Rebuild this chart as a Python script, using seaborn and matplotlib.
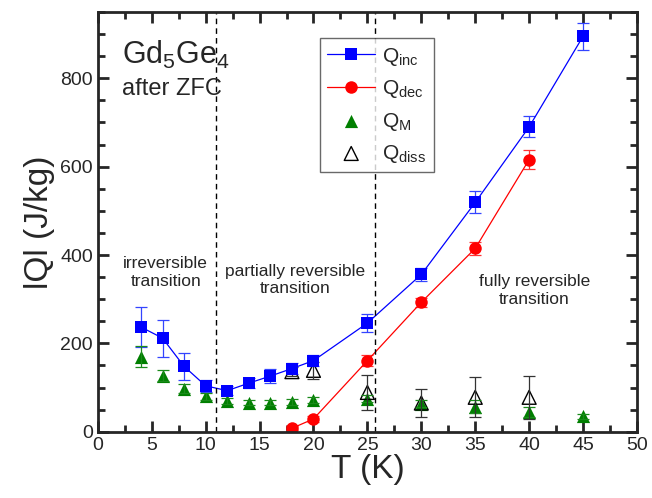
import numpy as np
import matplotlib
matplotlib.use("Agg")
import matplotlib.pyplot as plt
import seaborn as sns
from matplotlib.ticker import MultipleLocator

# Q_inc (blue squares)
T_inc = [4, 6, 8, 10, 12, 14, 16, 18, 20, 25, 30, 35, 40, 45]
Q_inc = [237, 212, 148, 104, 93, 110, 126, 143, 161, 246, 356, 519, 690, 895]
E_inc = [46, 42, 30, 14, 10, 12, 15, 12, 12, 20, 15, 25, 24, 30]

# Q_dec (red circles)
T_dec = [18, 20, 25, 30, 35, 40]
Q_dec = [8, 29, 161, 293, 415, 616]
E_dec = [4, 6, 12, 10, 15, 22]

# Q_M (green filled triangles)
T_m = [4, 6, 8, 10, 12, 14, 16, 18, 20, 25, 30, 35, 40, 45]
Q_m = [170, 127, 97, 80, 70, 66, 66, 68, 72, 75, 63, 57, 45, 35]
E_m = [24, 12, 10, 8, 7, 6, 6, 7, 7, 8, 8, 14, 12, 6]

# Q_diss (open triangles)
T_diss = [18, 20, 25, 30, 35, 40]
Q_diss = [136, 139, 89, 65, 78, 78]
E_diss = [10, 20, 40, 32, 45, 48]

sns.set_style("ticks")
plt.rcParams["font.family"] = ["Liberation Sans", "DejaVu Sans"]
plt.rcParams["mathtext.default"] = "regular"

fig, ax = plt.subplots(figsize=(6.52, 4.98), dpi=100)
fig.subplots_adjust(left=0.150, right=0.977, bottom=0.133, top=0.976)

# error bars
ax.errorbar(T_inc, Q_inc, yerr=E_inc, fmt="none", ecolor="#3344ff", elinewidth=0.9, capsize=4, capthick=0.9)
ax.errorbar(T_dec, Q_dec, yerr=E_dec, fmt="none", ecolor="#ff3333", elinewidth=0.9, capsize=4, capthick=0.9)
ax.errorbar(T_m, Q_m, yerr=E_m, fmt="none", ecolor="#1a8a1a", elinewidth=0.9, capsize=4, capthick=0.9)
ax.errorbar(T_diss, Q_diss, yerr=E_diss, fmt="none", ecolor="#333333", elinewidth=0.9, capsize=4, capthick=0.9)

sns.lineplot(x=T_inc, y=Q_inc, ax=ax, color="#0000ff", marker="s", markersize=8,
             markeredgewidth=0, linewidth=0.9, label=r"Q$_{inc}$")
sns.lineplot(x=T_dec, y=Q_dec, ax=ax, color="#ff0000", marker="o", markersize=9,
             markeredgewidth=0, linewidth=0.9, label=r"Q$_{dec}$")
sns.scatterplot(x=T_m, y=Q_m, ax=ax, color="#007f00", marker="^", s=90,
                linewidth=0, label=r"Q$_{M}$")
sns.scatterplot(x=T_diss, y=Q_diss, ax=ax, marker="^", s=100, facecolor="none",
                edgecolor="black", linewidth=1.0, label=r"Q$_{diss}$")

# region separators
ax.axvline(11, color="black", linestyle=(0, (4, 3)), linewidth=1.0)
ax.axvline(25.7, color="black", linestyle=(0, (4, 3)), linewidth=1.0)

ax.text(6.3, 360, "irreversible\ntransition", ha="center", va="center", fontsize=12.5)
ax.text(18.3, 343, "partially reversible\ntransition", ha="center", va="center", fontsize=12.5)
ax.text(40.5, 320, "fully reversible\ntransition", ha="center", va="center", fontsize=12.5)

ax.text(2.2, 852, r"Gd$_5$Ge$_4$", ha="left", va="center", fontsize=22)
ax.text(2.2, 775, "after ZFC", ha="left", va="center", fontsize=17)

ax.set_xlim(0, 50)
ax.set_ylim(0, 950)
ax.xaxis.set_major_locator(MultipleLocator(5))
ax.xaxis.set_minor_locator(MultipleLocator(2.5))
ax.yaxis.set_major_locator(MultipleLocator(200))
ax.yaxis.set_minor_locator(MultipleLocator(50))
ax.tick_params(which="both", direction="in", top=True, right=True, width=2)
ax.tick_params(which="major", length=8, labelsize=14)
ax.tick_params(which="minor", length=5)
for s in ax.spines.values():
    s.set_linewidth(2)

ax.set_xlabel("T (K)", fontsize=24, labelpad=0)
ax.set_ylabel("lQl (J/kg)", fontsize=24, labelpad=4)

leg = ax.legend(loc="upper left", bbox_to_anchor=(0.412, 0.937), borderaxespad=0,
                fontsize=15, frameon=True, fancybox=False, edgecolor="#444444",
                handlelength=2.3, borderpad=0.35, labelspacing=0.5, handletextpad=0.35)
leg.get_frame().set_linewidth(1.0)

fig.savefig("out.png", dpi=100)
